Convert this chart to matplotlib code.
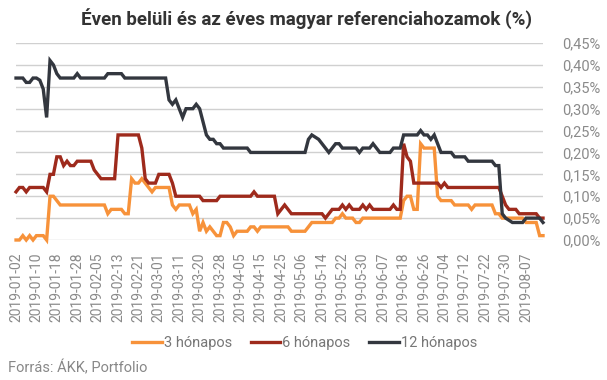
import numpy as np
import pandas as pd
import matplotlib
matplotlib.use('Agg')
import matplotlib.pyplot as plt

# Hungarian business days, 2019-01-02 .. 2019-08-14
START_DATE = '2019-01-02'
N_DAYS = 156
HOLIDAYS = ['2019-03-15', '2019-04-19', '2019-04-22', '2019-05-01', '2019-06-10']

SERIES_LABELS = ['3 hónapos', '6 hónapos', '12 hónapos']
SERIES_COLORS = ['#f7923a', '#9e2a1c', '#33373f']

# reference yields, %
M3 = [
    0.00, 0.00, 0.01, 0.00, 0.01, 0.00, 0.01, 0.01, 0.01, 0.00,
    0.10, 0.10, 0.09, 0.08, 0.08, 0.08, 0.08, 0.08, 0.08, 0.08,
    0.08, 0.08, 0.08, 0.08, 0.08, 0.08, 0.08, 0.06, 0.07, 0.07,
    0.07, 0.07, 0.06, 0.06, 0.14, 0.13, 0.13, 0.14, 0.13, 0.12,
    0.11, 0.12, 0.12, 0.12, 0.12, 0.12, 0.08, 0.07, 0.08, 0.08,
    0.08, 0.08, 0.06, 0.07, 0.02, 0.04, 0.02, 0.03, 0.02, 0.01,
    0.01, 0.04, 0.04, 0.03, 0.01, 0.02, 0.02, 0.02, 0.02, 0.03,
    0.03, 0.02, 0.03, 0.03, 0.03, 0.03, 0.03, 0.03, 0.03, 0.03,
    0.03, 0.02, 0.02, 0.02, 0.02, 0.02, 0.03, 0.04, 0.04, 0.04,
    0.04, 0.04, 0.04, 0.04, 0.05, 0.05, 0.06, 0.05, 0.05, 0.05,
    0.04, 0.04, 0.05, 0.05, 0.05, 0.05, 0.05, 0.05, 0.05, 0.05,
    0.05, 0.05, 0.05, 0.05, 0.09, 0.10, 0.10, 0.07, 0.07, 0.22,
    0.21, 0.21, 0.21, 0.21, 0.10, 0.09, 0.09, 0.09, 0.09, 0.08,
    0.08, 0.08, 0.08, 0.08, 0.07, 0.08, 0.08, 0.08, 0.08, 0.08,
    0.08, 0.06, 0.06, 0.05, 0.05, 0.05, 0.05, 0.05, 0.05, 0.05,
    0.04, 0.04, 0.04, 0.04, 0.01, 0.01,
]
M6 = [
    0.11, 0.12, 0.12, 0.11, 0.12, 0.12, 0.12, 0.12, 0.12, 0.11,
    0.15, 0.15, 0.19, 0.19, 0.17, 0.18, 0.17, 0.17, 0.18, 0.18,
    0.18, 0.18, 0.18, 0.16, 0.15, 0.14, 0.14, 0.14, 0.14, 0.14,
    0.24, 0.24, 0.24, 0.24, 0.24, 0.24, 0.24, 0.21, 0.14, 0.13,
    0.13, 0.13, 0.15, 0.15, 0.15, 0.15, 0.13, 0.10, 0.10, 0.10,
    0.10, 0.10, 0.10, 0.10, 0.10, 0.09, 0.09, 0.09, 0.09, 0.09,
    0.10, 0.10, 0.10, 0.10, 0.10, 0.10, 0.10, 0.10, 0.10, 0.10,
    0.11, 0.10, 0.10, 0.10, 0.10, 0.10, 0.10, 0.06, 0.07, 0.08,
    0.07, 0.06, 0.06, 0.06, 0.06, 0.06, 0.06, 0.06, 0.06, 0.06,
    0.06, 0.05, 0.06, 0.07, 0.07, 0.07, 0.08, 0.07, 0.08, 0.07,
    0.07, 0.07, 0.08, 0.07, 0.08, 0.07, 0.07, 0.07, 0.07, 0.07,
    0.07, 0.08, 0.07, 0.07, 0.22, 0.19, 0.18, 0.13, 0.13, 0.13,
    0.13, 0.13, 0.13, 0.13, 0.13, 0.12, 0.13, 0.12, 0.12, 0.12,
    0.12, 0.12, 0.12, 0.12, 0.12, 0.12, 0.12, 0.12, 0.12, 0.12,
    0.12, 0.12, 0.12, 0.10, 0.08, 0.07, 0.07, 0.07, 0.06, 0.06,
    0.06, 0.06, 0.06, 0.06, 0.05, 0.05,
]
M12 = [
    0.37, 0.37, 0.37, 0.36, 0.36, 0.37, 0.37, 0.365, 0.345, 0.28,
    0.41, 0.40, 0.38, 0.37, 0.37, 0.37, 0.37, 0.37, 0.38, 0.37,
    0.37, 0.37, 0.37, 0.37, 0.37, 0.37, 0.37, 0.38, 0.38, 0.38,
    0.38, 0.38, 0.37, 0.37, 0.37, 0.37, 0.37, 0.37, 0.37, 0.37,
    0.37, 0.37, 0.37, 0.37, 0.37, 0.32, 0.31, 0.32, 0.30, 0.28,
    0.30, 0.30, 0.30, 0.31, 0.30, 0.27, 0.24, 0.23, 0.23, 0.22,
    0.22, 0.21, 0.21, 0.21, 0.21, 0.21, 0.21, 0.21, 0.21, 0.20,
    0.20, 0.20, 0.20, 0.20, 0.20, 0.20, 0.20, 0.20, 0.20, 0.20,
    0.20, 0.20, 0.20, 0.20, 0.20, 0.20, 0.23, 0.24, 0.235, 0.23,
    0.22, 0.21, 0.20, 0.21, 0.22, 0.22, 0.21, 0.21, 0.21, 0.21,
    0.21, 0.20, 0.21, 0.21, 0.21, 0.22, 0.21, 0.20, 0.20, 0.20,
    0.20, 0.21, 0.21, 0.21, 0.24, 0.24, 0.24, 0.24, 0.24, 0.25,
    0.24, 0.24, 0.23, 0.24, 0.22, 0.20, 0.20, 0.20, 0.20, 0.19,
    0.19, 0.19, 0.19, 0.18, 0.18, 0.18, 0.18, 0.18, 0.18, 0.18,
    0.18, 0.17, 0.17, 0.06, 0.05, 0.045, 0.04, 0.04, 0.04, 0.04,
    0.05, 0.05, 0.05, 0.05, 0.05, 0.04,
]
Y_TICKS = [0.00, 0.05, 0.10, 0.15, 0.20, 0.25, 0.30, 0.35, 0.40, 0.45]
TICK_EVERY = 6

TITLE = 'Éven belüli és az éves magyar referenciahozamok (%)'
SOURCE = 'Forrás: ÁKK, Portfolio'


def main():
    plt.rcParams['font.family'] = ['Roboto', 'DejaVu Sans']

    dates = pd.bdate_range(START_DATE, periods=N_DAYS, freq='C', holidays=HOLIDAYS)
    x = np.arange(len(dates))

    fig = plt.figure(figsize=(6.07, 3.80), dpi=100)
    ax = fig.add_axes([0.0264, 0.3684, 0.8682, 0.5184])

    for vals, label, color in zip([M3, M6, M12], SERIES_LABELS, SERIES_COLORS):
        ax.plot(x, vals, color=color, linewidth=2.4, label=label,
                solid_joinstyle='miter', clip_on=False, zorder=3)

    ax.set_xlim(0, len(dates) - 1)
    ax.set_ylim(0, 0.45)
    ax.set_yticks(Y_TICKS)
    ax.set_yticklabels([f'{v:.2f}%'.replace('.', ',') for v in Y_TICKS])
    ax.yaxis.tick_right()
    ax.grid(axis='y', color='#d0d0d0', linewidth=1.0)
    ax.set_axisbelow(True)

    tick_pos = x[::TICK_EVERY]
    ax.set_xticks(tick_pos)
    ax.set_xticklabels([dates[i].strftime('%Y-%m-%d') for i in tick_pos], rotation=90)

    ax.tick_params(axis='y', length=0, pad=14, labelsize=10.5, labelcolor='#8a8a8a')
    ax.tick_params(axis='x', length=0, pad=9, labelsize=10, labelcolor='#8a8a8a')
    for side in ['top', 'right', 'left', 'bottom']:
        ax.spines[side].set_visible(False)

    fig.text(0.505, 0.952, TITLE, ha='center', va='center',
             fontsize=13.5, fontweight='bold', color='#333333')

    fig.legend(loc='center', bbox_to_anchor=(0.502, 0.097), ncol=3, frameon=False,
               fontsize=10.5, handlelength=2.0, handletextpad=0.15, columnspacing=1.3,
               labelcolor='#777777')
    fig.text(0.013, 0.032, SOURCE, ha='left', va='center', fontsize=10.5, color='#888888')

    fig.savefig('out.png', dpi=100)
    plt.close(fig)


if __name__ == '__main__':
    main()
